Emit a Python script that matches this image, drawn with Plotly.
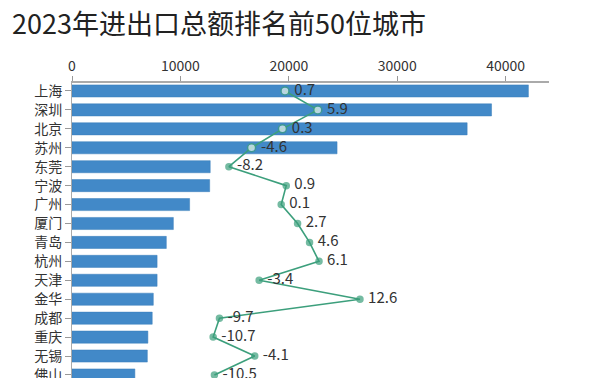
import plotly.graph_objects as go

cities = ["上海", "深圳", "北京", "苏州", "东莞", "宁波", "广州", "厦门", "青岛", "杭州",
          "天津", "金华", "成都", "重庆", "无锡", "佛山"]
totals = [42100, 38700, 36450, 24450, 12750, 12700, 10850, 9350, 8700, 7850,
          7850, 7500, 7400, 7000, 6950, 5800]
growth = [0.7, 5.9, 0.3, -4.6, -8.2, 0.9, 0.1, 2.7, 4.6, 6.1,
          -3.4, 12.6, -9.7, -10.7, -4.1, -10.5]
x_ticks = [0, 10000, 20000, 30000, 40000]

FONT = "Noto Sans CJK SC"
GREEN = "#3c9f7c"

marker_fill = ["#eaf6f0" if i < 4 else GREEN for i in range(len(cities))]
marker_size = [8 if i < 4 else 6 for i in range(len(cities))]

fig = go.Figure()
fig.add_trace(go.Bar(
    y=cities, x=totals, orientation="h",
    marker=dict(color="#4289c8", line=dict(color="#3a7fba", width=0.5)),
    width=0.64, hoverinfo="skip",
))
fig.add_trace(go.Scatter(
    y=cities, x=growth, xaxis="x2", mode="lines+markers+text",
    line=dict(color=GREEN, width=1.6),
    marker=dict(color=marker_fill, size=marker_size, line=dict(color=GREEN, width=1.5)),
    text=[f" {g:g}" for g in growth], textposition="middle right",
    textfont=dict(family=FONT, size=15, color="#333333"),
    cliponaxis=False,
))

fig.update_layout(
    width=600, height=378,
    margin=dict(l=72, r=51, t=83, b=0),
    paper_bgcolor="white", plot_bgcolor="white",
    showlegend=False,
    title=dict(text="2023年进出口总额排名前50位城市", x=0.02, xanchor="left",
               y=0.935, yanchor="middle",
               font=dict(family=FONT, size=27, color="#222222")),
    xaxis=dict(side="top", range=[0, 44000], tickvals=x_ticks,
               ticktext=[str(v) for v in x_ticks],
               ticks="outside", ticklen=5, tickcolor="#999999",
               showline=True, linecolor="#aaaaaa", linewidth=1.5,
               showgrid=False, zeroline=False, automargin=False,
               tickfont=dict(family=FONT, size=14, color="#333333")),
    xaxis2=dict(overlaying="x", range=[-33.1, 42.6], visible=False,
                showgrid=False, zeroline=False),
    yaxis=dict(autorange=False, range=[15.16, -0.42], type="category",
               ticks="outside", ticklen=6, tickcolor="#999999",
               showline=True, linecolor="#aaaaaa", linewidth=1,
               showgrid=False, zeroline=False, automargin=False,
               tickfont=dict(family=FONT, size=14, color="#333333")),
)

fig.write_html("out.html")
